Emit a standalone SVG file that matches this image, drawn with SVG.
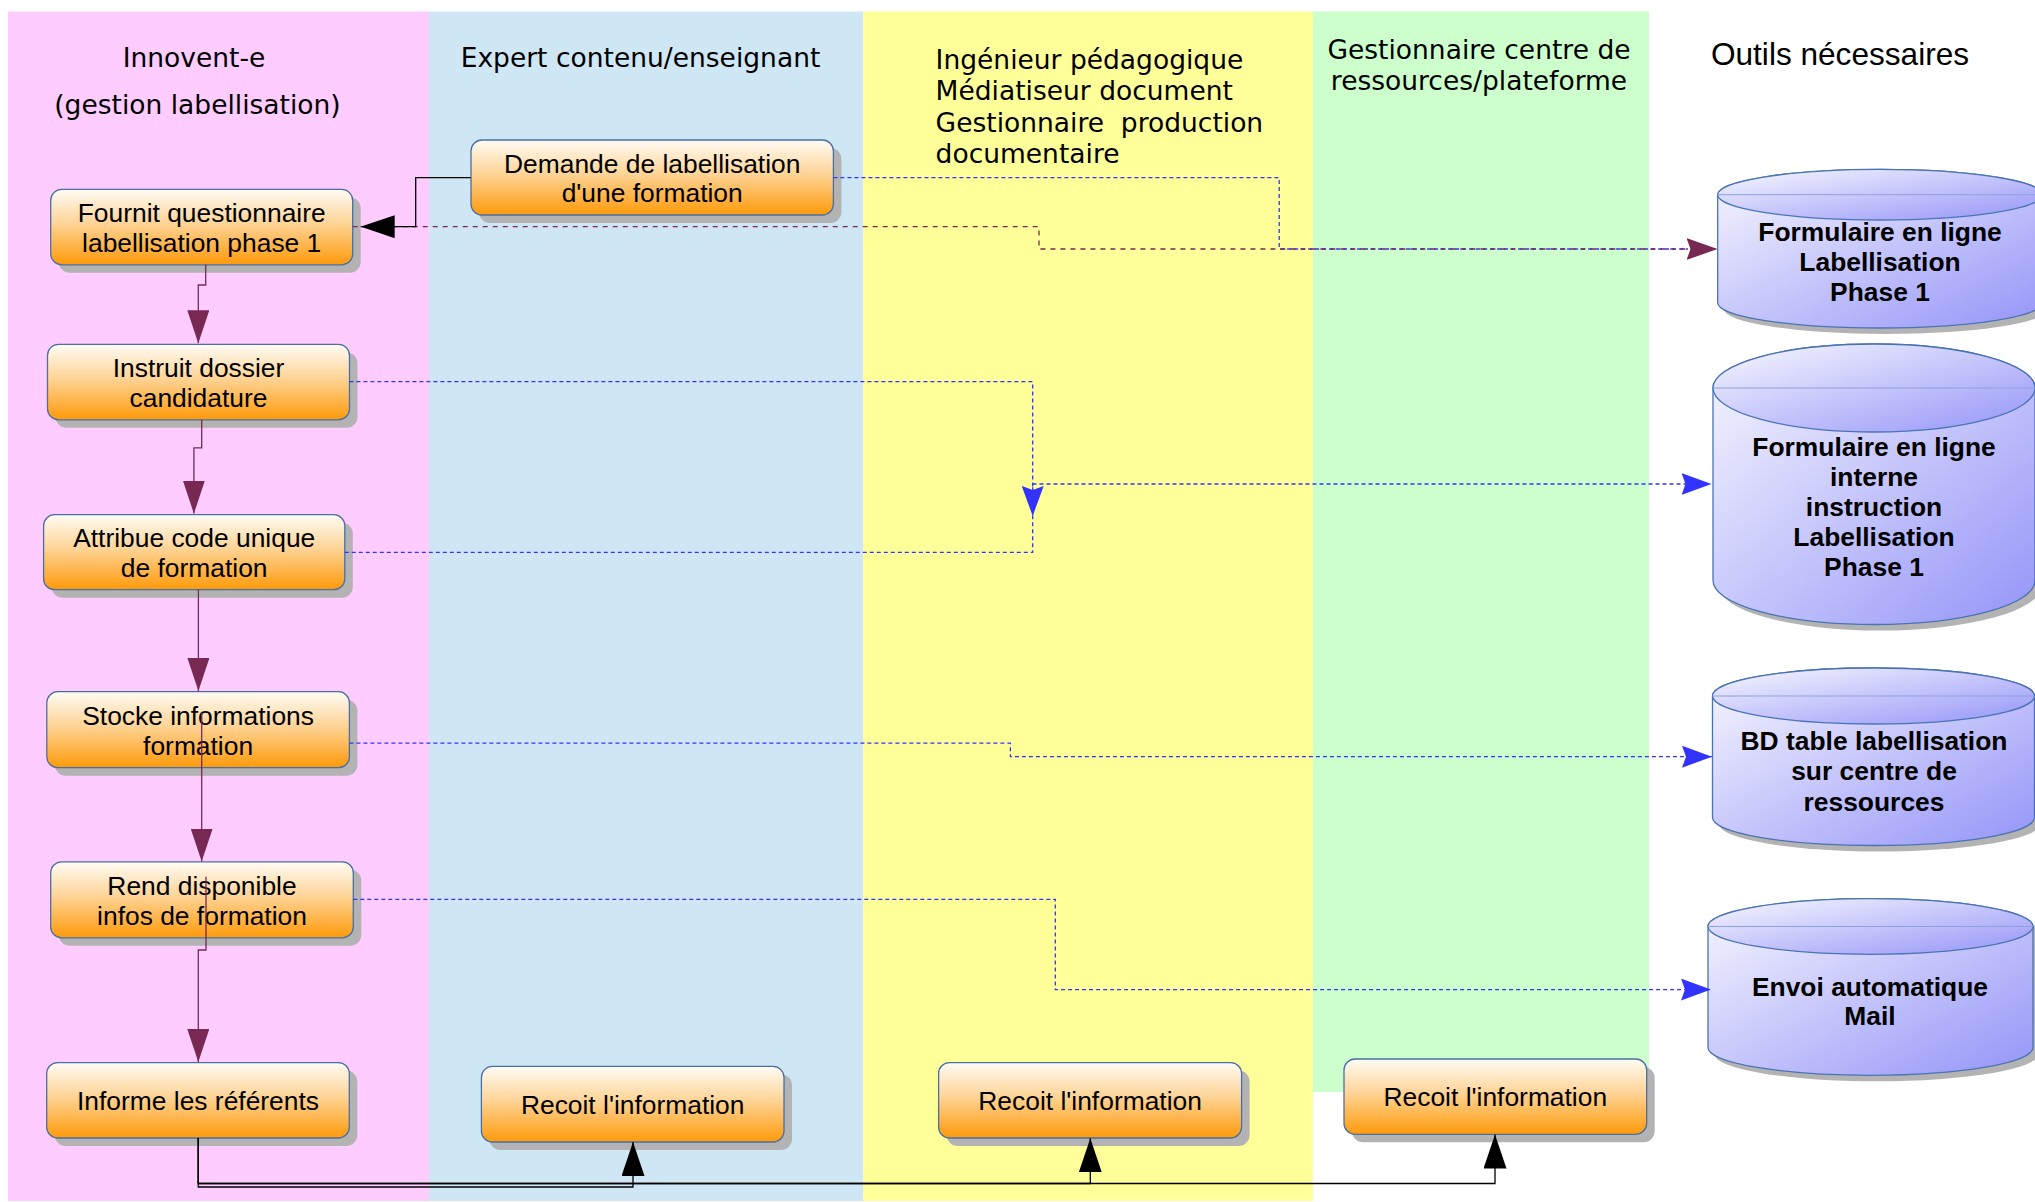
<svg xmlns="http://www.w3.org/2000/svg" width="2035" height="1202" viewBox="0 0 2035 1202">
<defs>
<style>
.hdr{font-family:"DejaVu Sans",sans-serif;font-size:26.5px;fill:#000}
.tools{font-family:"Liberation Sans",Arial,sans-serif;font-size:31.6px;fill:#000}
.nt{font-family:"Liberation Sans",Arial,sans-serif;font-size:26.4px;fill:#000;text-anchor:middle}
.ct{font-family:"Liberation Sans",Arial,sans-serif;font-size:26.4px;font-weight:bold;fill:#000;text-anchor:middle}
.box{fill:url(#gOrange);stroke:#4a6fa5;stroke-width:1.3}
.shadow{fill:#b3b3b3}
.cyl{fill:url(#gCyl);stroke:#4a73b5;stroke-width:1.3}
.cylline{stroke:#8da2dd;stroke-width:1}
.flow{fill:none;stroke:#772953;stroke-width:1.3}
.blk{fill:none;stroke:#000;stroke-width:1.3}
.dotb{fill:none;stroke:#3333ff;stroke-width:1.3;stroke-dasharray:4 3}
.dotp{fill:none;stroke:#772953;stroke-width:1.3;stroke-dasharray:5 5}
</style>
<linearGradient id="gOrange" x1="0" y1="0" x2="0" y2="1">
<stop offset="0" stop-color="#fffcf5"/>
<stop offset="0.45" stop-color="#fed497"/>
<stop offset="1" stop-color="#ff9a0a"/>
</linearGradient>
<linearGradient id="gCyl" x1="0" y1="0" x2="1" y2="1">
<stop offset="0" stop-color="#f8f8ff"/>
<stop offset="1" stop-color="#9494f8"/>
</linearGradient>
<marker id="aP" markerUnits="userSpaceOnUse" viewBox="0 0 33 22" refX="33" refY="11" markerWidth="33" markerHeight="22" orient="auto">
<path d="M0,0 L33,11 L0,22 Z" fill="#772953"/>
</marker>
<marker id="aK" markerUnits="userSpaceOnUse" viewBox="0 0 34 23" refX="34" refY="11.5" markerWidth="34" markerHeight="23" orient="auto">
<path d="M0,0 L34,11.5 L0,23 Z" fill="#000"/>
</marker>
<marker id="aB" markerUnits="userSpaceOnUse" viewBox="0 0 30 22" refX="30" refY="11" markerWidth="30" markerHeight="22" orient="auto">
<path d="M0,0 L30,11 L0,22 L4,11 Z" fill="#3333ff"/>
</marker>
<marker id="aPc" markerUnits="userSpaceOnUse" viewBox="0 0 31 22" refX="31" refY="11" markerWidth="31" markerHeight="22" orient="auto">
<path d="M0,0 L31,11 L0,22 L4,11 Z" fill="#772953"/>
</marker>
</defs>

<g id="lanes">
<rect x="8" y="11.5" width="421" height="1189.5" fill="#ffccff"/>
<rect x="429" y="11.5" width="434.4" height="1189.5" fill="#cfe7f5"/>
<rect x="863.4" y="11.5" width="449.6" height="1189.5" fill="#ffff99"/>
<rect x="1313" y="11.5" width="336" height="1080.5" fill="#ccffcc"/>
</g>

<g id="headers">
<text class="hdr" x="194" y="67" text-anchor="middle">Innovent-e</text>
<text class="hdr" x="197.5" y="113.5" text-anchor="middle">(gestion labellisation)</text>
<text class="hdr" x="640.5" y="67" text-anchor="middle">Expert contenu/enseignant</text>
<text class="hdr" x="935.6" y="69">Ingénieur pédagogique</text>
<text class="hdr" x="935.6" y="100.3">Médiatiseur document</text>
<text class="hdr" x="935.6" y="131.5" xml:space="preserve">Gestionnaire  production</text>
<text class="hdr" x="935.6" y="162.7">documentaire</text>
<text class="hdr" x="1479" y="59.3" text-anchor="middle">Gestionnaire centre de</text>
<text class="hdr" x="1479" y="90.3" text-anchor="middle">ressources/plateforme</text>
<text class="tools" x="1840" y="65" text-anchor="middle">Outils nécessaires</text>
</g>

<g id="node-demande">
<rect class="shadow" x="479" y="148" width="362.4" height="75" rx="11"/>
<rect class="box" x="471" y="140" width="362.4" height="75" rx="11"/>
<text class="nt" x="652.2" y="172.5">Demande de labellisation</text>
<text class="nt" x="652.2" y="202">d'une formation</text>
</g>
<g id="node-fournit">
<rect class="shadow" x="58.7" y="197.4" width="302" height="75.4" rx="11"/>
<rect class="box" x="50.7" y="189.4" width="302" height="75.4" rx="11"/>
<text class="nt" x="201.7" y="222">Fournit questionnaire</text>
<text class="nt" x="201.7" y="251.5">labellisation phase 1</text>
</g>
<g id="node-instruit">
<rect class="shadow" x="55.5" y="352.4" width="302" height="75.4" rx="11"/>
<rect class="box" x="47.5" y="344.4" width="302" height="75.4" rx="11"/>
<text class="nt" x="198.5" y="377">Instruit dossier</text>
<text class="nt" x="198.5" y="407.3">candidature</text>
</g>
<g id="node-attribue">
<rect class="shadow" x="51.6" y="522.7" width="301.2" height="75" rx="11"/>
<rect class="box" x="43.6" y="514.7" width="301.2" height="75" rx="11"/>
<text class="nt" x="194.2" y="547.3">Attribue code unique</text>
<text class="nt" x="194.2" y="577">de formation</text>
</g>
<g id="node-stocke">
<rect class="shadow" x="54.8" y="699.7" width="302.6" height="76" rx="11"/>
<rect class="box" x="46.8" y="691.7" width="302.6" height="76" rx="11"/>
<text class="nt" x="198.1" y="725">Stocke informations</text>
<text class="nt" x="198.1" y="754.5">formation</text>
</g>
<g id="node-rend">
<rect class="shadow" x="58.7" y="869.8" width="302.6" height="76" rx="11"/>
<rect class="box" x="50.7" y="861.8" width="302.6" height="76" rx="11"/>
<text class="nt" x="202" y="895">Rend disponible</text>
<text class="nt" x="202" y="924.5">infos de formation</text>
</g>
<g id="node-informe">
<rect class="shadow" x="54.7" y="1070.6" width="302.6" height="75.4" rx="11"/>
<rect class="box" x="46.7" y="1062.6" width="302.6" height="75.4" rx="11"/>
<text class="nt" x="198" y="1110">Informe les référents</text>
</g>
<g id="node-recoit-expert">
<rect class="shadow" x="489.4" y="1074.4" width="302.6" height="75.6" rx="11"/>
<rect class="box" x="481.4" y="1066.4" width="302.6" height="75.6" rx="11"/>
<text class="nt" x="632.7" y="1114">Recoit l'information</text>
</g>
<g id="node-recoit-ingenieur">
<rect class="shadow" x="946.6" y="1070.6" width="303" height="75.4" rx="11"/>
<rect class="box" x="938.6" y="1062.6" width="303" height="75.4" rx="11"/>
<text class="nt" x="1090.1" y="1110">Recoit l'information</text>
</g>
<g id="node-recoit-gestionnaire">
<rect class="shadow" x="1352" y="1067" width="302.7" height="75.3" rx="11"/>
<rect class="box" x="1344" y="1059" width="302.7" height="75.3" rx="11"/>
<text class="nt" x="1495.3" y="1106">Recoit l'information</text>
</g>

<g id="tool-formulaire-phase1">
<path class="shadow" d="M1723.7,200.7 V308.7 A162.3,25.3 0 0 0 2048.3,308.7 V200.7 A162.3,25.3 0 0 0 1723.7,200.7 Z"/>
<path class="cyl" d="M1717.7,194.7 V302.7 A162.3,25.3 0 0 0 2042.3,302.7 V194.7 A162.3,25.3 0 0 0 1717.7,194.7 Z"/>
<ellipse class="cyl" cx="1880" cy="194.7" rx="162.3" ry="25.3"/>
<line class="cylline" x1="1717.7" y1="194.7" x2="2042.3" y2="194.7"/>
<text class="ct" x="1880" y="241">Formulaire en ligne</text>
<text class="ct" x="1880" y="271">Labellisation</text>
<text class="ct" x="1880" y="301">Phase 1</text>
</g>
<g id="tool-formulaire-interne">
<path class="shadow" d="M1719,394 V586.5 A161,44 0 0 0 2041,586.5 V394 A161,44 0 0 0 1719,394 Z"/>
<path class="cyl" d="M1713,388 V580.5 A161,44 0 0 0 2035,580.5 V388 A161,44 0 0 0 1713,388 Z"/>
<ellipse class="cyl" cx="1874" cy="388" rx="161" ry="44"/>
<line class="cylline" x1="1713" y1="388" x2="2035" y2="388"/>
<text class="ct" x="1874" y="455.5">Formulaire en ligne</text>
<text class="ct" x="1874" y="485.5">interne</text>
<text class="ct" x="1874" y="515.5">instruction</text>
<text class="ct" x="1874" y="545.5">Labellisation</text>
<text class="ct" x="1874" y="575.5">Phase 1</text>
</g>
<g id="tool-bd-table">
<path class="shadow" d="M1718.5,702 V823.5 A161,28 0 0 0 2040.5,823.5 V702 A161,28 0 0 0 1718.5,702 Z"/>
<path class="cyl" d="M1712.5,696 V817.5 A161,28 0 0 0 2034.5,817.5 V696 A161,28 0 0 0 1712.5,696 Z"/>
<ellipse class="cyl" cx="1873.5" cy="696" rx="161" ry="28"/>
<line class="cylline" x1="1712.5" y1="696" x2="2034.5" y2="696"/>
<text class="ct" x="1874" y="750">BD table labellisation</text>
<text class="ct" x="1874" y="780.3">sur centre de</text>
<text class="ct" x="1874" y="810.5">ressources</text>
</g>
<g id="tool-envoi-mail">
<path class="shadow" d="M1714,932.5 V1053.5 A162.5,27.8 0 0 0 2039,1053.5 V932.5 A162.5,27.8 0 0 0 1714,932.5 Z"/>
<path class="cyl" d="M1708,926.5 V1047.5 A162.5,27.8 0 0 0 2033,1047.5 V926.5 A162.5,27.8 0 0 0 1708,926.5 Z"/>
<ellipse class="cyl" cx="1870.5" cy="926.5" rx="162.5" ry="27.8"/>
<line class="cylline" x1="1708" y1="926.5" x2="2033" y2="926.5"/>
<text class="ct" x="1870" y="995.5">Envoi automatique</text>
<text class="ct" x="1870" y="1025">Mail</text>
</g>

<g id="connectors">
<path class="dotb" d="M833.4,177.7 H1279.2 V249 H1688"/>
<path class="dotp" d="M352.7,226.7 H1039 V249 H1717.5" marker-end="url(#aPc)"/>
<path class="blk" d="M470.7,177.7 H415.7 V226.7 H360.7" marker-end="url(#aK)"/>
<path class="flow" d="M205.7,264.8 V285 H198.3 V343.3" marker-end="url(#aP)"/>
<path class="flow" d="M201.7,419.8 V447.8 H193.9 V513.6" marker-end="url(#aP)"/>
<path class="flow" d="M198.4,589.7 V691" marker-end="url(#aP)"/>
<path class="flow" d="M201.7,713 V861.5" marker-end="url(#aP)"/>
<path class="flow" d="M206,876.7 V950 H198.3 V1062" marker-end="url(#aP)"/>
<path class="dotb" d="M349.4,381.7 H1032.7 V516" marker-end="url(#aB)"/>
<path class="dotb" d="M344.8,552.3 H1032.7 V484 H1711.5" marker-end="url(#aB)"/>
<path class="dotb" d="M349.4,743.2 H1010.4 V756.7 H1712" marker-end="url(#aB)"/>
<path class="dotb" d="M353.3,899.4 H1055.3 V989.6 H1711" marker-end="url(#aB)"/>
<path class="blk" d="M198.3,1138 V1187 H633 V1142" marker-end="url(#aK)"/>
<path class="blk" d="M198.3,1138 V1183.5 H1090.3 V1138.3" marker-end="url(#aK)"/>
<path class="blk" d="M198.3,1138 V1183.5 H1495 V1134.6" marker-end="url(#aK)"/>
</g>
</svg>
